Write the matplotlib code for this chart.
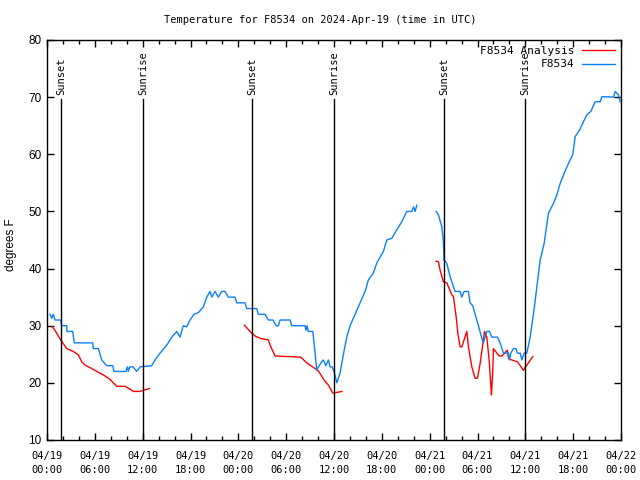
import matplotlib
matplotlib.use("Agg")
import matplotlib.pyplot as plt
import matplotlib.dates as mdates
import numpy as np
import datetime

# data, hours since 2024-04-19 00:00 UTC (nan = gap)
obs_hours = [0.38, 0.59, 0.79, 1.0, 1.72, 1.84, 2.47, 2.5, 3.22, 3.43, 5.73, 5.81, 6.44, 6.86,
             7.49, 8.24, 8.41, 9.91, 10.08, 10.2, 10.38, 10.79, 11.25, 11.67, 13.14, 13.55,
             14.18, 15.02, 15.65, 16.27, 16.69, 17.1, 17.53, 17.94, 18.44, 18.98, 19.61, 20.04,
             20.45, 20.67, 21.08, 21.49, 21.92, 22.33, 22.75, 23.59, 23.8, 24.84, 25.06, 26.31,
             26.51, 27.35, 27.77, 28.36, 28.73, 29.02, 29.23, 30.49, 30.7, 32.37, 32.5, 32.62,
             32.78, 33.34, 33.63, 33.84, 34.04, 34.47, 34.67, 34.97, 35.3, 35.51, 35.76, 36.01,
             36.35, 36.76, 37.18, 37.6, 38.02, 38.64, 39.27, 39.9, 40.31, 40.94, 41.37, 42.2,
             42.62, 43.25, 43.88, 44.5, 45.13, 45.76, 45.97, 46.17, 46.39,
             np.nan,
             48.81, 49.1, 49.52, 49.72, 49.81, 50.15, 50.56, 50.98, 51.19, 51.82, 52.03, 52.32,
             52.86, 53.07, 53.41, 53.7, 54.12, 54.54, 54.74, 54.96, 55.17, 55.5, 55.79, 56.5,
             56.84, 57.25, 57.88, 58.0, 58.18, 58.51, 58.81, 59.01, 59.35, 59.56, 59.85, 60.19,
             60.6, 61.02, 61.45, 61.86, 62.36, 62.9, 63.53, 63.95, 64.37, 64.87, 65.41, 65.96,
             66.25, 66.79, 67.29, 67.72, 68.22, 68.76, 69.39, 69.6, 71.06, 71.27, 71.68, 71.89]
obs_temps = [32, 31.3, 32, 31, 31, 30, 30, 29, 29, 27, 27, 26, 26, 24,
             23, 23, 22, 22, 22.8, 22, 22.8, 22.8, 22, 22.8, 23, 24,
             25.2, 26.6, 28, 29, 28, 30, 29.8, 31, 32, 32.3, 33.3, 35,
             36, 35, 36, 35, 36, 36, 35, 35, 34, 34, 33, 33,
             32, 32, 31, 31, 30, 30, 31, 31, 30, 30, 29.2, 30,
             29, 29, 25.2, 22.2, 22.8, 23.7, 24, 23, 24, 22.8, 22.8, 22,
             20, 21.7, 25, 28, 30, 32, 34, 36, 38, 39.2, 41, 43,
             45, 45.3, 46.8, 48.2, 50, 50, 50.8, 50, 51.1,
             np.nan,
             50, 49.4, 47.3, 44.7, 41.5, 40.9, 38.6, 36.8, 36, 36, 35, 36,
             36, 34, 33.5, 32, 30, 27.8, 27, 28, 29, 29, 28, 28,
             27, 25.2, 25.2, 24, 25.2, 26, 26, 25.2, 25.2, 24, 25.2, 25.2,
             28, 32, 36.8, 41.5, 44.4, 49.7, 51.4, 52.9, 54.9, 56.7, 58.4, 60,
             63.1, 64.2, 65.7, 66.9, 67.5, 69.2, 69.2, 70.1, 70, 71, 70.4, 69.2]

ana_hours = [0.66, 1.0, 1.72, 2.47, 3.3, 3.93, 4.35, 4.77, 5.61, 6.24, 7.06, 7.9, 8.75, 9.79,
             10.41, 10.83, 11.67, 12.08, 12.84,
             np.nan,
             24.76, 25.47, 26.1, 26.73, 27.77, 27.98, 28.61, 30.28, 31.83, 32.58, 33.41, 34.04,
             34.75, 35.3, 35.85, 36.26, 36.98,
             np.nan,
             48.81, 49.1, 49.31, 49.72, 50.15, 50.78, 50.98, 51.32, 51.53, 51.82, 52.03, 52.66,
             52.86, 53.29, 53.7, 53.99, 54.33, 54.62, 54.87, 55.17, 55.46, 55.67, 55.75, 55.92,
             56.0, 56.71, 57.05, 57.59, 57.75, 57.88, 58.31, 59.01, 59.76, 60.19, 60.94]
ana_temps = [29.8, 29.2, 27.5, 26, 25.5, 24.9, 23.7, 23.1, 22.5, 22, 21.4, 20.6, 19.4, 19.4,
             18.9, 18.5, 18.5, 18.7, 19.0,
             np.nan,
             30.1, 29, 28.2, 27.8, 27.5, 26.6, 24.7, 24.6, 24.5, 23.5, 22.7, 22.1,
             20.5, 19.6, 18.2, 18.3, 18.5,
             np.nan,
             41.3, 41.2, 39.7, 37.7, 37.5, 35.4, 35.1, 31.6, 28.7, 26.3, 26.3, 29,
             26.3, 22.8, 20.8, 20.8, 23.4, 26.3, 29, 28, 24, 19.6, 17.9, 22.2,
             26, 24.7, 24.7, 25.5, 25.7, 24.3, 24, 23.7, 22.2, 23.1, 24.6]

sun_hours = [1.8, 12.08, 25.76, 36.05, 49.85, 60.0]
sun_labels = ["Sunset", "Sunrise", "Sunset", "Sunrise", "Sunset", "Sunrise"]

# hours -> matplotlib date numbers (nan stays nan so gaps survive)
t0 = mdates.date2num(datetime.datetime(2024, 4, 19, 0, 0))
def to_time(h):
    return t0 + np.array(h, dtype=float) / 24.0

mono = "DejaVu Sans Mono"
fig = plt.figure(figsize=(6.4, 4.8), dpi=100)
ax = fig.add_axes([47/640, 40/480, 574/640, 400/480])

ax.plot(to_time(ana_hours), ana_temps, color="#ff0000", lw=1, label="F8534 Analysis")
ax.plot(to_time(obs_hours), obs_temps, color="#0a80ff", lw=1, label="F8534")

for x, lab in zip(to_time(sun_hours), sun_labels):
    ax.plot([x, x], [10, 69.7], color="black", lw=1)
    ax.text(x, 70.4, lab, rotation=90, ha="center", va="bottom", fontsize=7.5, family=mono)

ax.xaxis_date()
ax.set_xlim(t0, t0 + 3)
ax.set_ylim(10, 80)
ax.set_yticks(range(10, 81, 10))
ax.xaxis.set_major_locator(mdates.HourLocator(byhour=[0, 6, 12, 18]))
ax.xaxis.set_minor_locator(mdates.HourLocator(byhour=range(0, 24, 2)))
ax.xaxis.set_major_formatter(mdates.DateFormatter("%m/%d\n%H:%M"))
ax.tick_params(which="both", direction="in", top=True, right=True, width=1)
ax.tick_params(which="major", length=5)
ax.tick_params(which="minor", length=3)
ax.tick_params(axis="x", labelsize=7.5, pad=8)
ax.tick_params(axis="y", labelsize=8.5, pad=4)
for lab in ax.get_xticklabels():
    lab.set_family(mono)
    lab.set_linespacing(1.5)
for lab in ax.get_yticklabels():
    lab.set_family("Liberation Sans")
for s in ax.spines.values():
    s.set_linewidth(1)

fig.text(11/640, 1 - 245/480, "degrees F", rotation=90, ha="center", va="center",
         fontsize=8.5, family="Liberation Sans")
fig.text(0.5, 1 - 20/480, "Temperature for F8534 on 2024-Apr-19 (time in UTC)",
         ha="center", va="center", fontsize=7.5, family=mono)

ax.legend(loc="upper right", frameon=False, markerfirst=False,
          prop={"family": mono, "size": 8}, handlelength=3.0, borderaxespad=0.15,
          labelspacing=0.3, handletextpad=0.6)

fig.savefig("out.png", dpi=100)
